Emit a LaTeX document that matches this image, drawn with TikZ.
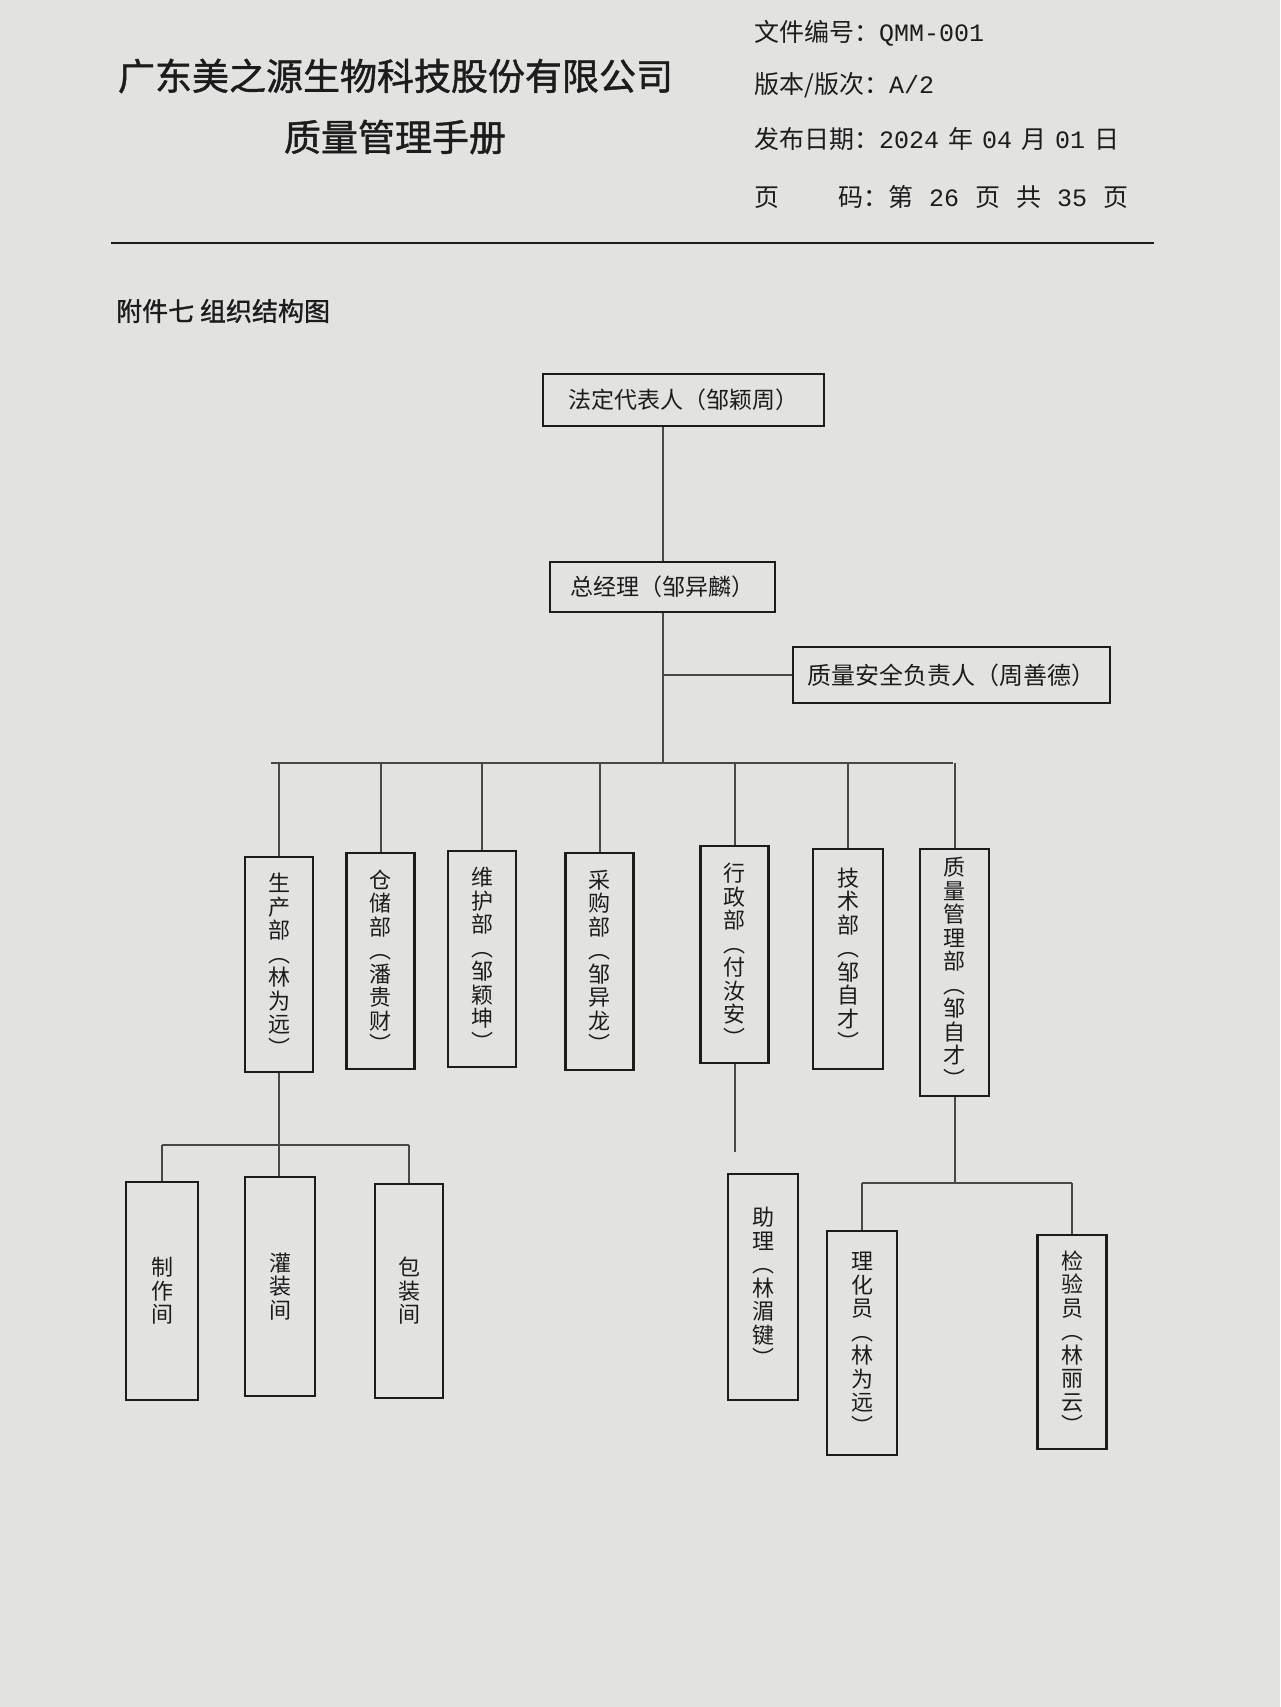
\documentclass[tikz,border=0pt]{standalone}
\usepackage{fontspec}
\setmainfont{Liberation Serif}
\newfontfamily\cjk{Noto Sans CJK SC}
\newfontfamily\cjkmid[FakeBold=1.2]{Noto Sans CJK SC}
\newfontfamily\latinmono{Liberation Mono}
\usetikzlibrary{positioning}

\definecolor{paper}{RGB}{226,226,224}
\definecolor{ink}{RGB}{28,28,28}
\definecolor{wire}{RGB}{72,72,72}

\begin{document}
\begin{tikzpicture}[x=1pt, y=-1pt,
  post/.style={draw=ink, line width=2.4pt, inner sep=0pt, text=ink,
    font=\cjk\fontsize{23}{25}\selectfont},
  dept/.style={post, minimum width=68, align=center,
    font=\cjk\fontsize{22}{23.5}\selectfont},
  link/.style={draw=wire, line width=2pt},
  info/.style={anchor=west, inner sep=0pt, text=ink, font=\cjk\fontsize{25}{27}\selectfont}]
\useasboundingbox (0,0) rectangle (1280,1707);
\fill[paper] (0,0) rectangle (1280,1707);

% header
\node[inner sep=0pt, text=ink, font=\cjkmid\fontsize{37}{40}\selectfont] (corp) at (395.5,76) {广东美之源生物科技股份有限公司};
\node[inner sep=0pt, text=ink, font=\cjkmid\fontsize{37}{40}\selectfont] (manual) at (395,137) {质量管理手册};
\node[info] (docno) at (754,33) {文件编号：{\latinmono QMM-001}};
\node[info] (rev) at (754,85) {版本/版次：{\latinmono A/2}};
\node[info] (date) at (754,139) {发布日期：{\latinmono 2024}\hspace{9pt}年\hspace{9pt}{\latinmono 04}\hspace{9pt}月\hspace{9pt}{\latinmono 01}\hspace{9pt}日};
\node[info] (page) at (754,197) {页\hspace{59pt}码：第\hspace{16pt}{\latinmono 26}\hspace{16pt}页\hspace{16pt}共\hspace{16pt}{\latinmono 35}\hspace{16pt}页};
\coordinate (ruleL) at (111,243);
\coordinate (ruleR) at (1154,243);
\draw[ink, line width=2pt] (ruleL) -- (ruleR);
\node[anchor=west, inner sep=0pt, text=ink, font=\cjkmid\fontsize{26}{28}\selectfont] (annex) at (116,311) {附件七 组织结构图};

% top of the chart
\node[post, minimum width=281, minimum height=52] (legal) at (683.5,400) {法定代表人（邹颖周）};
\node[post, minimum width=225, minimum height=50] (gm) at (662.5,587) {总经理（邹异麟）};
\node[post, minimum width=317, minimum height=56, font=\cjk\fontsize{24}{26}\selectfont] (qsafe) at (951.5,675) {质量安全负责人（周善德）};

% departments
\node[dept, minimum height=215] (p1) at (279,964.5) {生\\产\\部\\︵\\林\\为\\远\\︶};
\node[dept, minimum height=216] (p2) at (380.5,961) {仓\\储\\部\\︵\\潘\\贵\\财\\︶};
\node[dept, minimum height=216] (p3) at (482,959) {维\\护\\部\\︵\\邹\\颖\\坤\\︶};
\node[dept, minimum height=217] (p4) at (599.5,961.5) {采\\购\\部\\︵\\邹\\异\\龙\\︶};
\node[dept, minimum height=217] (p5) at (734.5,954.5) {行\\政\\部\\︵\\付\\汝\\安\\︶};
\node[dept, minimum height=220, minimum width=70] (p6) at (848,959) {技\\术\\部\\︵\\邹\\自\\才\\︶};
\node[dept, minimum height=247, minimum width=69] (p7) at (954.5,972.5) {质\\量\\管\\理\\部\\︵\\邹\\自\\才\\︶};

% sections and staff
\node[dept, minimum height=218, minimum width=72] (s1) at (162,1291) {制\\作\\间};
\node[dept, minimum height=219, minimum width=70] (s2) at (280,1286.5) {灌\\装\\间};
\node[dept, minimum height=214] (s3) at (409,1291) {包\\装\\间};
\node[dept, minimum height=226, minimum width=70] (aide) at (763,1287) {助\\理\\︵\\林\\湄\\键\\︶};
\node[dept, minimum height=224, minimum width=70] (r1) at (862,1343) {理\\化\\员\\︵\\林\\为\\远\\︶};
\node[dept, minimum height=214, minimum width=69] (r2) at (1072,1342) {检\\验\\员\\︵\\林\\丽\\云\\︶};

% connectors
\coordinate (busL) at (271,763);
\coordinate (busR) at (953,763);
\coordinate (subL) at (162,1145);
\coordinate (stub) at (734.5,1152);
\coordinate (qbus) at (862,1183);
\draw[link] (gm.north |- legal.south) -- (gm.north);
\draw[link] (gm.south) -- (gm.south |- busL);
\draw[link] (gm.south |- qsafe.west) -- (qsafe.west);
\draw[link] (busL) -- (busR);
\foreach \d in {p1,p2,p3,p4,p5,p6,p7}
  \draw[link] (\d.north) -- (\d.north |- busL);
\draw[link] (p1.south) -- (p1.south |- s2.north);
\draw[link] (s1.north |- subL) -- (s3.north |- subL);
\draw[link] (s1.north) -- (s1.north |- subL);
\draw[link] (s3.north) -- (s3.north |- subL);
\draw[link] (p5.south) -- (p5.south |- stub);
\draw[link] (p7.south) -- (p7.south |- qbus);
\draw[link] (r1.north |- qbus) -- (r2.north |- qbus);
\draw[link] (r1.north) -- (r1.north |- qbus);
\draw[link] (r2.north) -- (r2.north |- qbus);
\end{tikzpicture}
\end{document}
